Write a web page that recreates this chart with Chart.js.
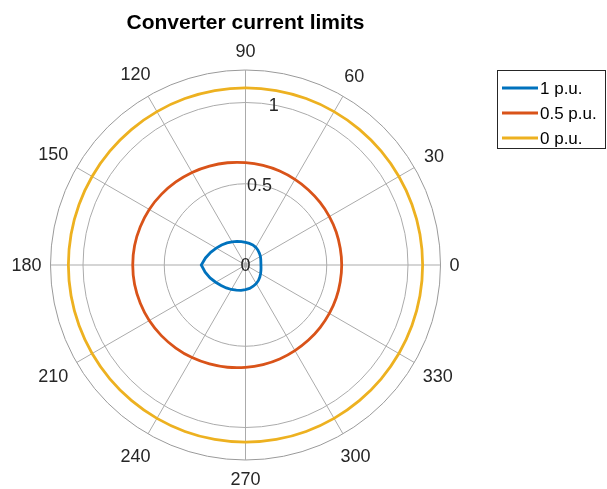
<!DOCTYPE html>
<html><head><meta charset="utf-8">
<script src="https://cdn.jsdelivr.net/npm/chart.js@4/dist/chart.umd.min.js"></script>
<style>html,body{margin:0;padding:0;background:#fff}#wrap{width:607px;height:489px;position:relative}canvas{display:block}</style>
</head><body><div id="wrap"><canvas id="c" width="607" height="489"></canvas></div>
<script>
// ---- data (theta in degrees, counter-clockwise from 0 = right) ----
const thetaDeg = [0,10,20,30,40,50,60,70,80,90,100,110,120,130,140,150,160,170,180,190,200,210,220,230,240,250,260,270,280,290,300,310,320,330,340,350];
const angleTickLabels = [0,30,60,90,120,150,180,210,240,270,300,330];
const radialTickValues = [0,0.5,1];
const rMax = 1.2;
const radialLabelAngle = 80;
const chartTitle = 'Converter current limits';
const seriesNames = ['1 p.u.','0.5 p.u.','0 p.u.'];
const seriesColors = ['#0072BD','#D95319','#EDB120'];
const r1pu = [0.095,0.096,0.100,0.106,0.112,0.119,0.126,0.131,0.135,0.139,0.146,0.155,0.165,0.177,0.192,0.208,0.228,0.250,0.272,0.252,0.232,0.212,0.196,0.184,0.174,0.165,0.158,0.152,0.146,0.139,0.132,0.124,0.115,0.107,0.101,0.097];
const r05pu = [0.592,0.592,0.594,0.596,0.599,0.603,0.608,0.615,0.622,0.630,0.639,0.648,0.658,0.667,0.676,0.684,0.689,0.693,0.694,0.693,0.689,0.684,0.676,0.667,0.658,0.648,0.639,0.630,0.622,0.615,0.608,0.603,0.599,0.596,0.594,0.592];
const r0pu = [1.09,1.09,1.09,1.09,1.09,1.09,1.09,1.09,1.09,1.09,1.09,1.09,1.09,1.09,1.09,1.09,1.09,1.09,1.09,1.09,1.09,1.09,1.09,1.09,1.09,1.09,1.09,1.09,1.09,1.09,1.09,1.09,1.09,1.09,1.09,1.09];
const seriesTension = [0, 0.33, 0.33];

// Chart.js radar goes clockwise from the top; reorder so theta runs counter-clockwise from the right
const step = 10;
const n = thetaDeg.length;
const chartTheta = Array.from({length:n}, (_, i) => ((90 - step * i) % 360 + 360) % 360);
const reorder = arr => chartTheta.map(t => arr[thetaDeg.indexOf(t)]);
const idxOfTheta = t => chartTheta.indexOf(((t % 360) + 360) % 360);

const FONT = '"Liberation Sans", Arial, Helvetica, sans-serif';
const TXT = '#262626';

const layout = { cx: 245.5, cy: 265, radius: 195 };

const polarDecor = {
  id: 'polarDecor',
  afterDraw(chart) {
    const s = chart.scales.r;
    const ctx = chart.ctx;
    ctx.save();
    // angle labels
    ctx.font = '18px ' + FONT;
    ctx.fillStyle = TXT;
    ctx.textAlign = 'center';
    ctx.textBaseline = 'middle';
    angleTickLabels.forEach(t => {
      const i = idxOfTheta(t);
      const p0 = s.getPointPosition(i, 1);
      const txt = String(t);
      const hw = ctx.measureText(txt).width / 2;
      const hh = 10;
      const D = s.drawingArea + 9 + hw * Math.abs(Math.cos(p0.angle)) + hh * Math.abs(Math.sin(p0.angle));
      const p = s.getPointPosition(i, D);
      ctx.fillText(txt, p.x, p.y + 1);
    });
    // radial tick labels along 80 degrees
    radialTickValues.forEach(v => {
      const p = s.getPointPositionForValue(idxOfTheta(radialLabelAngle), v);
      ctx.fillText(String(v), p.x, p.y + 1);
    });
    // title
    ctx.font = 'bold 21px ' + FONT;
    ctx.fillStyle = '#000';
    ctx.fillText(chartTitle, layout.cx, 23);
    // legend
    const lx = 497.5, ly = 70.5, lw = 108, lh = 78;
    ctx.fillStyle = '#fff';
    ctx.fillRect(lx, ly, lw, lh);
    ctx.strokeStyle = '#262626';
    ctx.lineWidth = 1;
    ctx.strokeRect(lx, ly, lw, lh);
    ctx.font = '17px ' + FONT;
    ctx.textAlign = 'left';
    chart.data.datasets.forEach((ds, i) => {
      const y = 88 + i * 25;
      ctx.strokeStyle = ds.borderColor;
      ctx.lineWidth = 2.8;
      ctx.beginPath();
      ctx.moveTo(502, y);
      ctx.lineTo(538, y);
      ctx.stroke();
      ctx.fillStyle = '#000';
      ctx.fillText(ds.label, 540, y + 1);
    });
    ctx.restore();
  }
};

const datasets = [r1pu, r05pu, r0pu].map((arr, i) => ({
  label: seriesNames[i],
  data: reorder(arr),
  borderColor: seriesColors[i],
  backgroundColor: seriesColors[i],
  borderWidth: 2.8,
  fill: false,
  pointRadius: 0,
  pointHoverRadius: 0,
  tension: seriesTension[i]
}));

new Chart(document.getElementById('c'), {
  type: 'radar',
  data: { labels: chartTheta.map(String), datasets },
  options: {
    responsive: false,
    animation: false,
    devicePixelRatio: 1,
    layout: { padding: 0 },
    plugins: { legend: { display: false }, title: { display: false }, tooltip: { enabled: false } },
    scales: {
      r: {
        min: 0,
        max: rMax,
        startAngle: 0,
        afterBuildTicks: sc => { sc.ticks = radialTickValues.concat([rMax]).map(v => ({ value: v })); },
        afterUpdate: sc => { sc.xCenter = layout.cx; sc.yCenter = layout.cy; sc.drawingArea = layout.radius; },
        grid: {
          circular: true,
          color: c => (c.tick && c.tick.value === rMax) ? '#9a9a9a' : '#ababab',
          lineWidth: 1
        },
        angleLines: {
          color: '#ababab',
          lineWidth: c => (chartTheta[c.index] % 30 === 0 ? 1 : 0)
        },
        pointLabels: { display: false },
        ticks: { display: false }
      }
    }
  },
  plugins: [polarDecor]
});
</script>
</body></html>
